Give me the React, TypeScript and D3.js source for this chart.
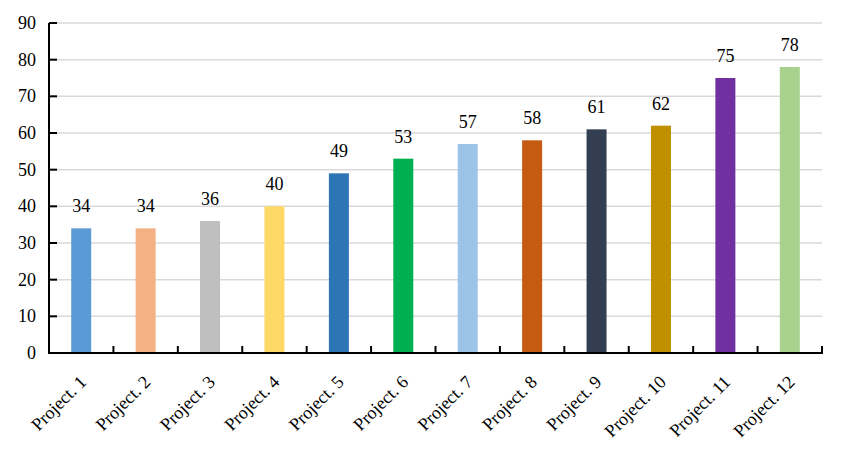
import React from "react";
import * as d3 from "d3";

const categories = ["Project. 1","Project. 2","Project. 3","Project. 4","Project. 5","Project. 6","Project. 7","Project. 8","Project. 9","Project. 10","Project. 11","Project. 12"];
const values = [34, 34, 36, 40, 49, 53, 57, 58, 61, 62, 75, 78];
const colors = ["#5B9BD5","#F4B183","#BFBFBF","#FFD966","#2E75B6","#00B050","#9DC3E6","#C55A11","#333F50","#BF9000","#7030A0","#A9D18E"];
const yTicks = [0, 10, 20, 30, 40, 50, 60, 70, 80, 90];

export default function App() {
  const W = 845, H = 459;
  const left = 49, right = 822, top = 23, bottom = 353;
  const x = d3.scaleBand<string>().domain(categories).range([left, right]).paddingInner(0).paddingOuter(0);
  const y = d3.scaleLinear().domain([0, 90]).range([bottom, top]);
  const bw = 20;
  const font = "'Liberation Serif', 'Times New Roman', serif";
  return (
    <svg width={W} height={H} style={{ position: "absolute", left: 0, top: 0 }} fontFamily={font}>
      <rect width={W} height={H} fill="#fff" />
      {yTicks.filter(t => t > 0).map(t => (
        <line key={"g"+t} x1={left} x2={right} y1={y(t)} y2={y(t)} stroke="#d9d9d9" strokeWidth={1.5} />
      ))}
      {categories.map((c, i) => {
        const cx = x(c)! + x.bandwidth() / 2;
        return (
          <g key={c}>
            <rect x={cx - bw / 2} y={y(values[i])} width={bw} height={bottom - y(values[i])} fill={colors[i]} />
            <text x={cx} y={y(values[i]) - 16} textAnchor="middle" fontSize={18} fill="#000">{values[i]}</text>
            <text transform={`translate(${cx - 3},${bottom + 21}) rotate(-45)`} textAnchor="end" dominantBaseline="hanging" fontSize={18} fill="#000">{c}</text>
          </g>
        );
      })}
      <line x1={left} x2={left} y1={top} y2={bottom} stroke="#000" strokeWidth={2} />
      <line x1={left - 1} x2={right + 1} y1={bottom} y2={bottom} stroke="#000" strokeWidth={2} />
      {yTicks.map(t => (
        <g key={"t"+t}>
          <line x1={left} x2={left + 8} y1={y(t)} y2={y(t)} stroke="#000" strokeWidth={2} />
          <text x={left - 13} y={y(t)} textAnchor="end" dominantBaseline="central" fontSize={18} fill="#000">{t}</text>
        </g>
      ))}
      {categories.map((c, i) => {
        const xe = x(c)! + x.bandwidth();
        return <line key={"xt"+i} x1={xe} x2={xe} y1={bottom} y2={bottom - 7} stroke="#000" strokeWidth={2} />;
      })}
    </svg>
  );
}
